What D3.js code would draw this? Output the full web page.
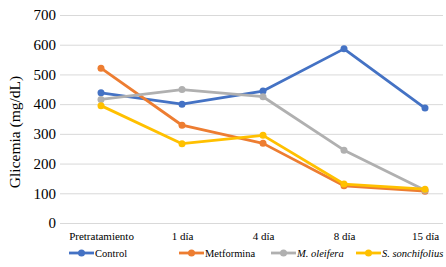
<!DOCTYPE html>
<html lang="es">
<head>
<meta charset="utf-8">
<script src="https://d3js.org/d3.v7.min.js"></script>
<style>
  body { margin: 0; background: #fff; }
</style>
</head>
<body>
<script>
// data
const categories = ["Pretratamiento", "1 día", "4 día", "8 día", "15 día"];
const control = [438, 400, 444, 586, 387];
const metformina = [521, 329, 268, 125, 107];
const oleifera = [416, 449, 425, 245, 110];
const sonchifolius = [395, 267, 295, 131, 114];
const yTicks = [0, 100, 200, 300, 400, 500, 600, 700];

const series = [
  { name: "Control", values: control, color: "#4472C4", italic: false },
  { name: "Metformina", values: metformina, color: "#ED7D31", italic: false },
  { name: "M. oleifera", values: oleifera, color: "#B0B0B0", italic: true },
  { name: "S. sonchifolius", values: sonchifolius, color: "#FFC000", italic: true }
];

const FONT = "'Liberation Serif'";
const width = 446, height = 267;
const svg = d3.select("body").append("svg")
  .attr("width", width)
  .attr("height", height)
  .attr("font-family", FONT);

const x = d3.scalePoint().domain(categories).range([101, 425]);
const y = d3.scaleLinear().domain([0, 700]).range([223, 15]);

// gridlines
svg.append("g").selectAll("line")
  .data(yTicks)
  .enter().append("line")
  .attr("x1", 60).attr("x2", 443)
  .attr("y1", d => y(d) + 0.5).attr("y2", d => y(d) + 0.5)
  .attr("stroke", "#d9d9d9").attr("stroke-width", 1);

// y axis labels
const yAxis = svg.append("g")
  .attr("transform", "translate(56,0)")
  .call(d3.axisLeft(y).tickValues(yTicks).tickSize(0).tickPadding(0));
yAxis.select(".domain").remove();
yAxis.attr("font-family", FONT).attr("font-size", 15);
yAxis.selectAll("text").attr("fill", "#000");

// x axis labels
const xAxis = svg.append("g")
  .attr("transform", "translate(0,232)")
  .call(d3.axisBottom(x).tickSize(0).tickPadding(0));
xAxis.select(".domain").remove();
xAxis.attr("font-family", FONT).attr("font-size", 11);
xAxis.selectAll("text").attr("fill", "#000");

// y title
svg.append("text")
  .attr("transform", "translate(20,132) rotate(-90)")
  .attr("text-anchor", "middle")
  .attr("font-size", 15.5)
  .attr("fill", "#000")
  .text("Glicemia (mg/dL)");

const line = d3.line()
  .x((d, i) => x(categories[i]))
  .y(d => y(d));

series.forEach(s => {
  const g = svg.append("g");
  g.append("path")
    .datum(s.values)
    .attr("d", line)
    .attr("fill", "none")
    .attr("stroke", s.color)
    .attr("stroke-width", 2.8)
    .attr("stroke-linejoin", "round");
  g.selectAll("circle")
    .data(s.values)
    .enter().append("circle")
    .attr("cx", (d, i) => x(categories[i]))
    .attr("cy", d => y(d))
    .attr("r", 3.5)
    .attr("fill", s.color);
});

// legend
const legendX = [69, 179, 271, 356];
const legend = svg.append("g");
series.forEach((s, i) => {
  const lg = legend.append("g").attr("transform", "translate(" + legendX[i] + ",253)");
  lg.append("line")
    .attr("x1", 0).attr("x2", 25)
    .attr("stroke", s.color).attr("stroke-width", 2.8);
  lg.append("circle").attr("cx", 12.5).attr("r", 3.5).attr("fill", s.color);
  lg.append("text")
    .attr("x", 26).attr("dy", "0.35em")
    .attr("font-size", 10.5)
    .attr("font-style", s.italic ? "italic" : "normal")
    .attr("fill", "#000")
    .text(s.name);
});
</script>
</body>
</html>
